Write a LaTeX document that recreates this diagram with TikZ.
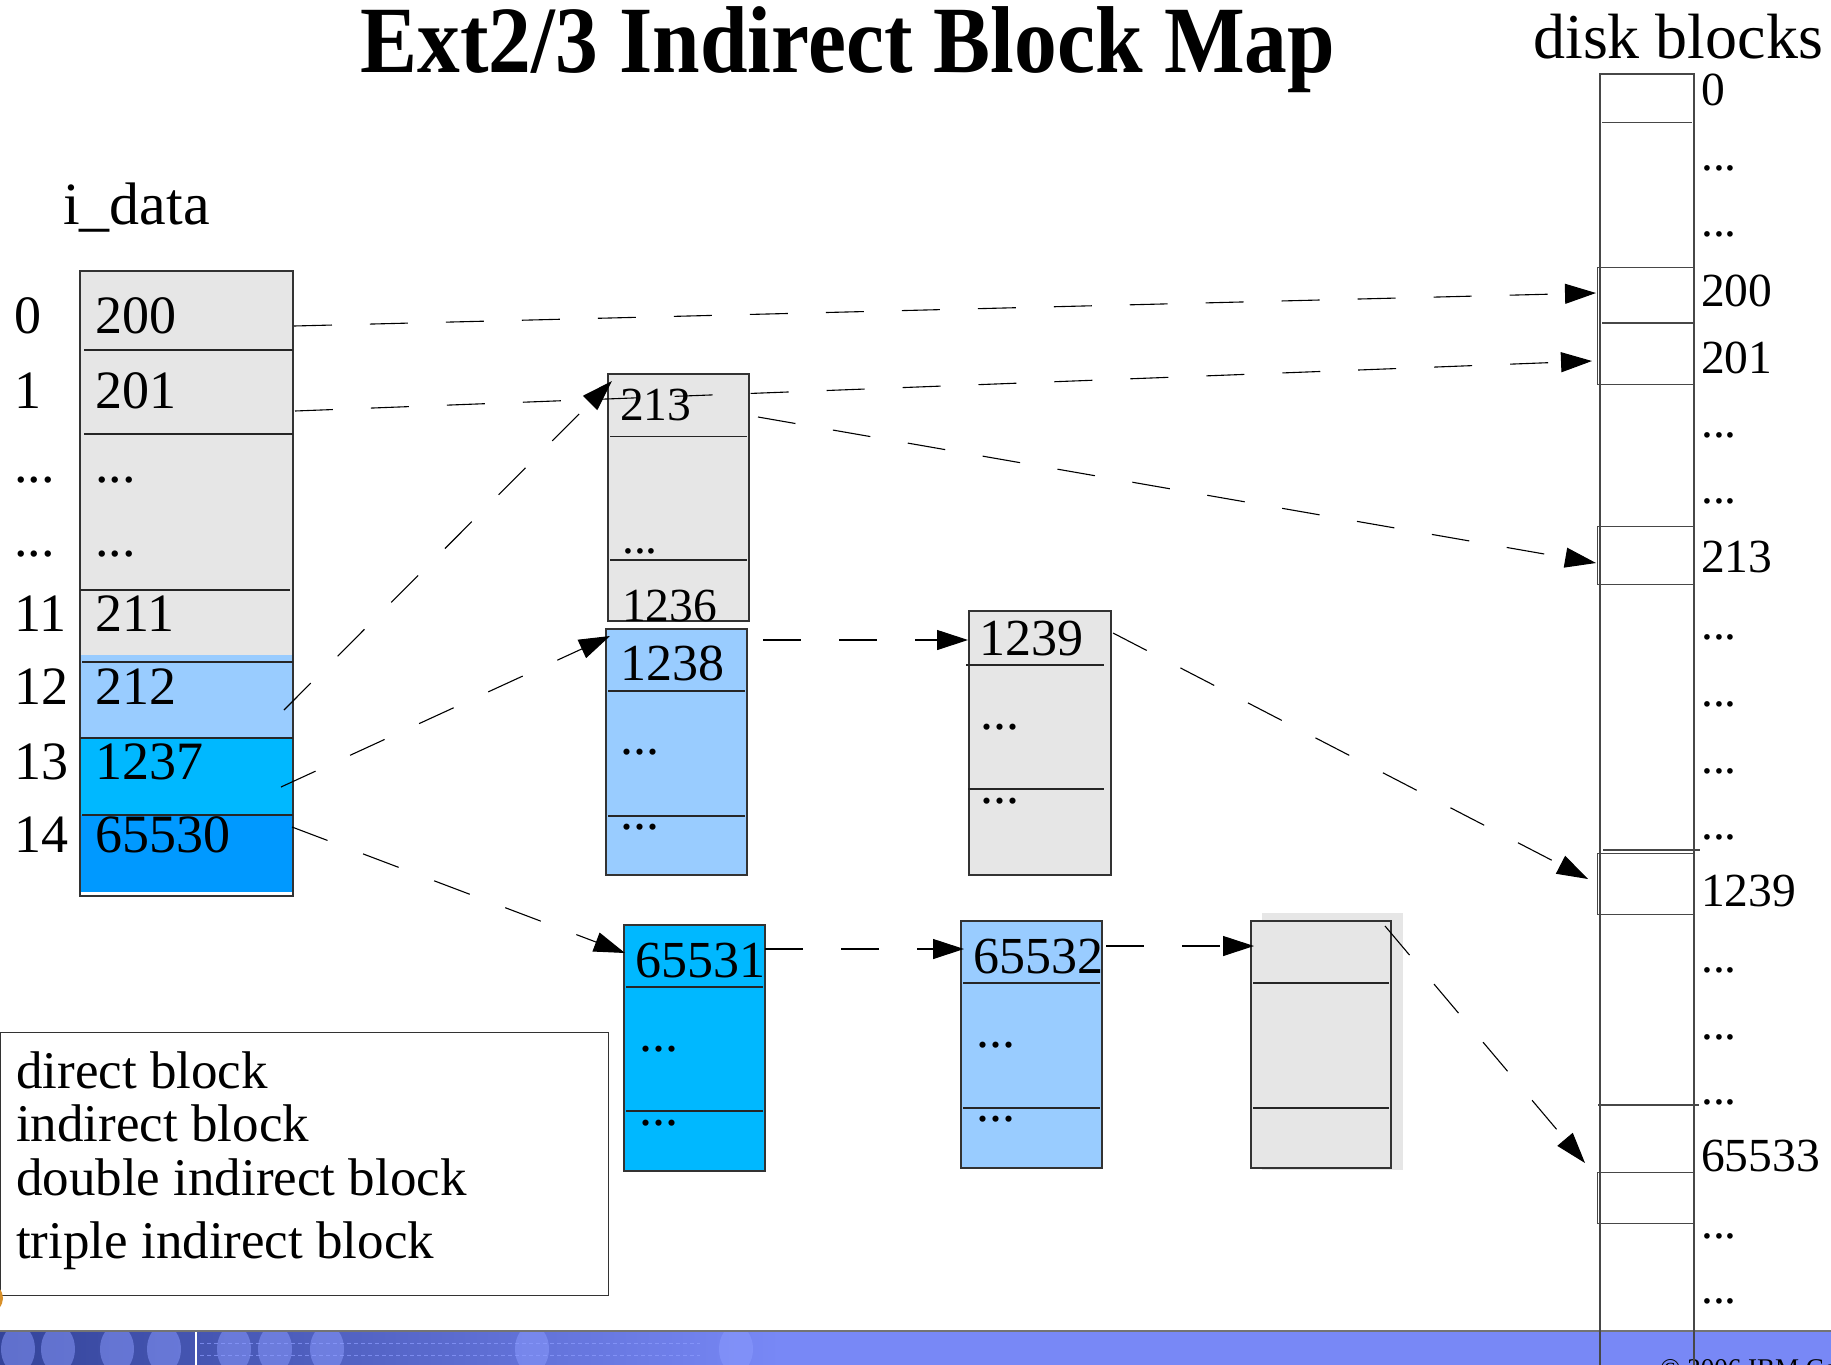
\documentclass[tikz,border=0pt]{standalone}
\usepackage{fontspec}
\setmainfont{Liberation Serif}
\usetikzlibrary{arrows.meta}
\definecolor{blkgrey}{HTML}{E6E6E6}
\definecolor{lblue}{HTML}{99CCFF}
\definecolor{cyanb}{HTML}{00B8FF}
\definecolor{dblue}{HTML}{0099FF}
\definecolor{band}{HTML}{7888F6}
\definecolor{bandnavy}{HTML}{34449A}
\definecolor{bandlight}{HTML}{8C9CFF}
\definecolor{logoorange}{HTML}{D8902A}
\newcommand\mydots{...}
\begin{document}
\begin{tikzpicture}[x=1pt,y=-1pt,
  blk/.style={draw=black!80, line width=1.3pt, anchor=north west, inner sep=0pt, outer sep=0pt},
  sep/.style={draw=black!85, line width=1.2pt},
  disk/.style={draw=black!72, line width=1.3pt},
  ptr/.style={draw=black, line width=1.1pt, dash pattern=on 38pt off 38pt, -{Triangle[length=31pt,width=20pt]}},
  ilbl/.style={anchor=base west, inner sep=0pt, font=\fontsize{54}{60}\selectfont},
  lbl/.style={anchor=base west, inner sep=0pt, font=\fontsize{52}{60}\selectfont},
  slbl/.style={anchor=base west, inner sep=0pt, font=\fontsize{47.5}{55}\selectfont},
  leg/.style={anchor=base west, inner sep=0pt, font=\fontsize{53}{60}\selectfont},
]
\clip (0,0) rectangle (1831,1365);
\fill[white] (0,0) rectangle (1831,1365);

% ---------- title ----------
\node[anchor=base, inner sep=0pt, font=\fontsize{95}{100}\selectfont\bfseries] (title) at (848,72) {\scalebox{0.9}[1]{Ext2/3 Indirect Block Map}};
\node[anchor=base west, inner sep=0pt, font=\fontsize{64}{70}\selectfont] (disklbl) at (1533,58) {disk blocks};
\node[anchor=base west, inner sep=0pt, font=\fontsize{60}{66}\selectfont] (idatalbl) at (63,224) {i\_data};

% ---------- i_data block ----------
\fill[blkgrey] (80,271) rectangle (293,655);
\fill[lblue] (80,655) rectangle (293,737);
\fill[cyanb] (80,737) rectangle (293,815);
\fill[dblue] (80,815) rectangle (293,892);
\node[blk, minimum width=213pt, minimum height=625pt] (idata) at (80,271) {};
\draw[sep] (84,350) -- (293,350);
\draw[sep] (84,434) -- (293,434);
\draw[sep] (80,590) -- (290,590);
\draw[sep] (82,662) -- (293,662);
\draw[sep] (80,738) -- (293,738);
\draw[sep] (82,815) -- (293,815);

\foreach \n/\i/\v/\b in {r0/0/200/333, r1/1/201/408, r2/\mydots/\mydots/482, r3/\mydots/\mydots/556,
                        r11/11/211/631, r12/12/212/704, r13/13/1237/779, r14/14/65530/852}{
  \node[ilbl] (idx\n) at (14,\b) {\i};
  \node[ilbl] (val\n) at (95,\b) {\v};
}

% ---------- block A (213) ----------
\node[blk, fill=blkgrey, minimum width=141pt, minimum height=247pt] (blkA) at (608,374) {};
\draw[sep] (610,436.5) -- (747,436.5);
\draw[sep] (610,560) -- (747,560);
\node[slbl] (a213) at (620,420) {213};
\node[slbl] (adots) at (622,553) {\mydots};
\node[slbl] (a1236) at (622,621) {1236};

% ---------- block B (1238) ----------
\node[blk, fill=lblue, minimum width=141pt, minimum height=246pt] (blkB) at (606,629) {};
\draw[sep] (608,691) -- (745,691);
\draw[sep] (608,816) -- (745,816);
\node[lbl] (b1238) at (620,680) {1238};
\node[lbl] (bdotsa) at (620,754) {\mydots};
\node[lbl] (bdotsb) at (620,829) {\mydots};

% ---------- block C (1239) ----------
\node[blk, fill=blkgrey, minimum width=142pt, minimum height=264pt] (blkC) at (969,611) {};
\draw[sep] (966,665) -- (1104,665);
\draw[sep] (968,789) -- (1104,789);
\node[lbl] (c1239) at (979,655) {1239};
\node[lbl] (cdotsa) at (980,729) {\mydots};
\node[lbl] (cdotsb) at (980,803) {\mydots};

% ---------- block D (65531) ----------
\node[blk, fill=cyanb, minimum width=141pt, minimum height=246pt] (blkD) at (624,925) {};
\draw[sep] (626,987) -- (763,987);
\draw[sep] (626,1111) -- (763,1111);
\node[lbl] (d65531) at (635,977) {65531};
\node[lbl] (ddotsa) at (639,1051) {\mydots};
\node[lbl] (ddotsb) at (639,1125) {\mydots};

% ---------- block E (65532) ----------
\node[blk, fill=lblue, minimum width=141pt, minimum height=247pt] (blkE) at (961,921) {};
\draw[sep] (963,983) -- (1100,983);
\draw[sep] (963,1108) -- (1100,1108);
\node[lbl] (e65532) at (973,973) {65532};
\node[lbl] (edotsa) at (976,1047) {\mydots};
\node[lbl] (edotsb) at (976,1121) {\mydots};

% ---------- block F (empty) ----------
\fill[blkgrey] (1262,913) rectangle (1403,1170);
\node[blk, fill=blkgrey, minimum width=140pt, minimum height=247pt] (blkF) at (1251,921) {};
\draw[sep] (1253,983) -- (1389,983);
\draw[sep] (1253,1108) -- (1389,1108);

% ---------- legend ----------
\node[draw=black!80, line width=1.3pt, anchor=north west, inner sep=0pt, minimum width=608pt, minimum height=263pt] (legend) at (0,1032) {};
\node[leg] (l1) at (16,1088) {direct block};
\node[leg] (l2) at (16,1141) {indirect block};
\node[leg] (l3) at (16,1195) {double indirect block};
\node[leg] (l4) at (16,1258) {triple indirect block};

% orange logo fragment
\fill[logoorange] (-12,1281) .. controls (8,1288) and (8,1308) .. (-12,1316) -- cycle;

% ---------- bottom band ----------
\begin{scope}
  \clip (0,1331) rectangle (1831,1365);
  \fill[band] (0,1331) rectangle (1831,1365);
  \shade[left color=bandnavy, right color=band] (0,1331) rectangle (780,1365);
  \foreach \cx in {18,58,117,164,234,275,327,532,736}{
    \fill[bandlight, opacity=0.5] (\cx,1349) ellipse (17pt and 24pt);
  }
  \foreach \yy in {1343,1355}{
    \draw[bandlight, opacity=0.7, line width=0.8pt, dash pattern=on 4pt off 3pt] (200,\yy) -- (700,\yy);
  }
  \draw[white, line width=1.2pt] (196,1331) -- (196,1365);
\end{scope}
\draw[black!55, line width=1.2pt] (0,1331) -- (1831,1331);
\node[anchor=base west, inner sep=0pt, font=\fontsize{27}{30}\selectfont] (copyr) at (1660,1377) {© 2006 IBM Corporation};

% ---------- disk blocks column ----------
\draw[disk] (1600,1370) -- (1600,74) -- (1694,74) -- (1694,1370);
\draw[disk] (1602,122.7) -- (1692,122.7);
\node[disk, draw, anchor=north west, inner sep=0pt, minimum width=97pt, minimum height=117pt] (k200) at (1597,267) {};
\draw[disk] (1602,323) -- (1694,323);
\node[disk, draw, anchor=north west, inner sep=0pt, minimum width=97pt, minimum height=58pt] (k213) at (1597,526) {};
\draw[disk] (1603,850) -- (1700,850);
\node[disk, draw, anchor=north west, inner sep=0pt, minimum width=97pt, minimum height=61pt] (k1239) at (1597,853) {};
\draw[disk] (1598,1105) -- (1699,1105);
\node[disk, draw, anchor=north west, inner sep=0pt, minimum width=97pt, minimum height=51pt] (k65533) at (1597,1172) {};

\foreach \n/\t/\b in {q0/0/105, q1/\mydots/170, q2/\mydots/236, q3/200/306, q4/201/373, q5/\mydots/437, q6/\mydots/503,
                      q7/213/572, q8/\mydots/639, q9/\mydots/706, q10/\mydots/773, q11/\mydots/839, q12/1239/906,
                      q13/\mydots/972, q14/\mydots/1039, q15/\mydots/1104, q16/65533/1171, q17/\mydots/1238, q18/\mydots/1303}{
  \node[slbl] (\n) at (1701,\b) {\t};
}

% ---------- pointer end points ----------
\coordinate (s200) at (294,326);
\coordinate (t200) at (1596,293);
\coordinate (s201) at (295,411);
\coordinate (t201) at (1592,361);
\coordinate (s212) at (284,710);
\coordinate (tA) at (612,381);
\coordinate (s1237) at (281,787);
\coordinate (tB) at (610,636);
\coordinate (s65530) at (292,827);
\coordinate (tD) at (625,953);
\coordinate (sA) at (758,417);
\coordinate (t213) at (1596,563);
\coordinate (sB) at (763,640);
\coordinate (tC) at (968,640);
\coordinate (sC) at (1113,633);
\coordinate (t1239) at (1588,879);
\coordinate (sD) at (765,949);
\coordinate (tE) at (964,949);
\coordinate (sE) at (1106,946);
\coordinate (tF) at (1254,946);
\coordinate (sF) at (1385,926);
\coordinate (t65533) at (1585,1163);

% ---------- pointers ----------
\draw[ptr] (s200) -- (t200);
\draw[ptr] (s201) -- (t201);
\draw[ptr] (s212) -- (tA);
\draw[ptr] (s1237) -- (tB);
\draw[ptr] (s65530) -- (tD);
\draw[ptr] (sA) -- (t213);
\draw[ptr] (sB) -- (tC);
\draw[ptr] (sC) -- (t1239);
\draw[ptr] (sD) -- (tE);
\draw[ptr] (sE) -- (tF);
\draw[ptr] (sF) -- (t65533);
\end{tikzpicture}
\end{document}
